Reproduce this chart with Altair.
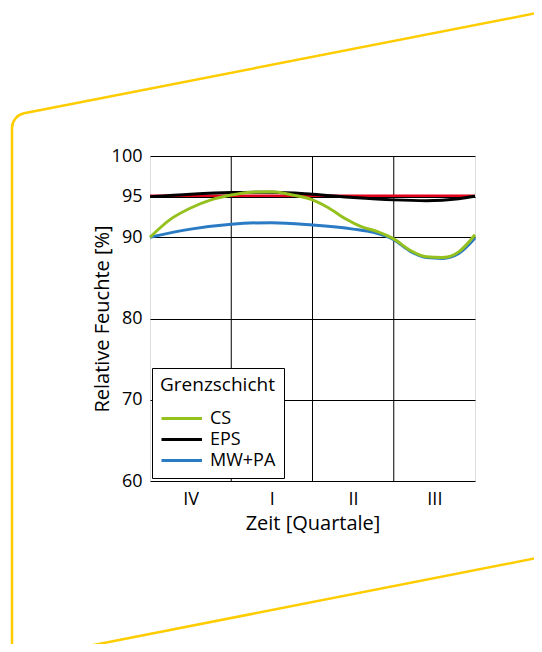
import json
import altair as alt
import pandas as pd

# ---- data ----
quarter_labels = ["IV", "I", "II", "III"]
quarter_centers = [0.5, 1.5, 2.5, 3.5]
quarter_bounds = [1, 2, 3]
y_ticks = [60, 70, 80, 90, 95, 100]

series_names = ["CS", "EPS", "MW+PA"]

cs_x = [0, 0.25, 0.5, 0.75, 1.0, 1.25, 1.5, 1.75, 2.0, 2.2, 2.4, 2.6, 2.8, 3.0, 3.2, 3.4, 3.6, 3.8, 4.0]
cs_y = [90.0, 92.2, 93.6, 94.6, 95.2, 95.55, 95.6, 95.2, 94.6, 93.6, 92.3, 91.3, 90.7, 89.8, 88.4, 87.6, 87.5, 88.2, 90.3]

eps_x = [0, 0.5, 1.0, 1.5, 2.0, 2.5, 3.0, 3.4, 3.8, 4.0]
eps_y = [95.0, 95.3, 95.5, 95.55, 95.3, 94.9, 94.6, 94.5, 94.75, 95.05]

mw_x = [0, 0.5, 1.0, 1.5, 2.0, 2.5, 2.75, 3.0, 3.2, 3.4, 3.6, 3.8, 4.0]
mw_y = [90.0, 91.0, 91.6, 91.8, 91.5, 91.0, 90.6, 89.7, 88.3, 87.5, 87.4, 88.0, 89.9]

ref_x = [0, 4]
ref_y = [95.1, 95.1]

# ---- styling ----
FONT = "Open Sans"
GREEN = "#95c11f"
BLACK = "#000000"
BLUE = "#2a7bc3"
RED = "#e2001a"
YELLOW = "#ffcc00"

rows = []
for name, xs, ys in [("MW+PA", mw_x, mw_y), ("EPS", eps_x, eps_y), ("CS", cs_x, cs_y)]:
    for xv, yv in zip(xs, ys):
        rows.append({"series": name, "x": xv, "y": yv})
lines_df = pd.DataFrame(rows)
ref_df = pd.DataFrame({"x": ref_x, "y": ref_y})
bounds_df = pd.DataFrame({"x": quarter_bounds})
dummy = pd.DataFrame({"d": [0]})

label_expr = "[" + ",".join(json.dumps(l) for l in quarter_labels) + "][floor(datum.value)]"

xscale = alt.Scale(domain=[0, 4], nice=False, zero=False)
yscale = alt.Scale(domain=[60, 100], nice=False, zero=False)

x_axis = alt.Axis(values=quarter_centers, labelExpr=label_expr, ticks=False, grid=False,
                  domain=False, labelPadding=9, labelFontSize=18, labelFont=FONT,
                  labelColor="black", title="Zeit [Quartale]", titleFont=FONT,
                  titleFontSize=20, titleFontWeight="normal", titleColor="black",
                  titlePadding=5)
y_axis = alt.Axis(values=y_ticks, ticks=False, grid=True, gridColor="black", gridWidth=1,
                  domain=False, labelPadding=8, labelFontSize=18, labelFont=FONT,
                  labelColor="black", title="Relative Feuchte [%]", titleFont=FONT,
                  titleFontSize=20, titleFontWeight="normal", titleColor="black",
                  titlePadding=-1)

# decorative yellow frame (pixel positions relative to plot origin)
deco_top = alt.Chart(dummy).mark_rule(color=YELLOW, strokeWidth=2.5).encode(
    x=alt.value(-125.9), y=alt.value(-42.7), x2=alt.value(392), y2=alt.value(-144))
deco_left = alt.Chart(dummy).mark_rule(color=YELLOW, strokeWidth=2.5).encode(
    x=alt.value(-138), y=alt.value(-28), x2=alt.value(-138), y2=alt.value(500))
deco_bottom = alt.Chart(dummy).mark_rule(color=YELLOW, strokeWidth=2.5).encode(
    x=alt.value(-92), y=alt.value(496), x2=alt.value(392), y2=alt.value(401))
deco_arc = alt.Chart(dummy).mark_arc(radius=16.25, radius2=13.75, theta=4.712, theta2=6.09,
                                     color=YELLOW).encode(x=alt.value(-123), y=alt.value(-28))

vgrid = alt.Chart(bounds_df).mark_rule(color="black", strokeWidth=1).encode(
    x=alt.X("x:Q", scale=xscale, axis=x_axis))

ref_line = alt.Chart(ref_df).mark_line(color=RED, strokeWidth=2.5).encode(
    x=alt.X("x:Q", scale=xscale, axis=x_axis),
    y=alt.Y("y:Q", scale=yscale, axis=y_axis))

series_lines = alt.Chart(lines_df).mark_line(strokeWidth=3, interpolate="monotone").encode(
    x=alt.X("x:Q", scale=xscale, axis=x_axis),
    y=alt.Y("y:Q", scale=yscale, axis=y_axis),
    color=alt.Color("series:N",
                    scale=alt.Scale(domain=series_names, range=[GREEN, BLACK, BLUE]),
                    legend=alt.Legend(title="Grenzschicht", orient="none", legendX=2, legendY=212,
                                      direction="vertical", titleFont=FONT, titleFontSize=19,
                                      titleFontWeight="normal", titleColor="black",
                                      labelFont=FONT, labelFontSize=18, labelColor="black",
                                      symbolType="M-1,0H3.5", symbolSize=324, symbolStrokeWidth=3,
                                      padding=8, strokeColor="black", fillColor="white",
                                      rowPadding=1, titlePadding=13, labelOffset=29)),
    detail="series:N",
)

chart = alt.layer(deco_top, deco_left, deco_bottom, deco_arc, vgrid, ref_line, series_lines).properties(
    width=325, height=325,
    autosize=alt.AutoSizeParams(type="none"),
    padding={"left": 142, "top": 148, "right": 59, "bottom": 163},
).configure_view(stroke="black", strokeWidth=1.5).configure(font=FONT)

chart.save("out.html", embed_options={"renderer": "svg", "actions": False})
